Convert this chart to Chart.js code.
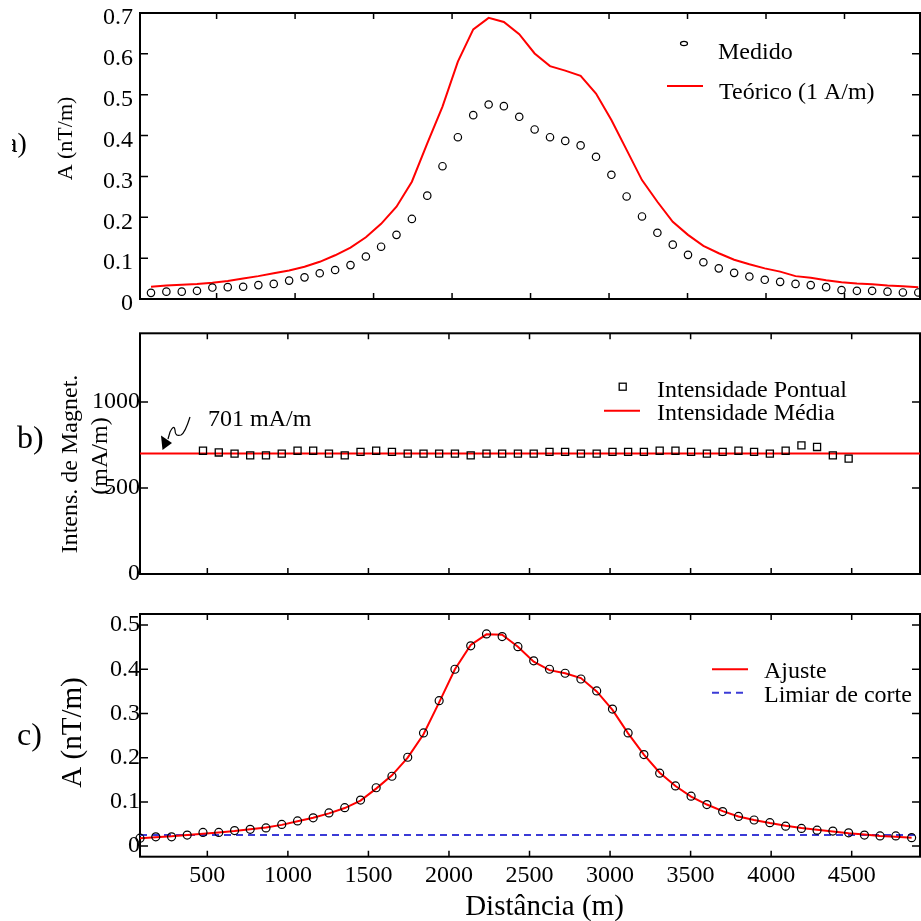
<!DOCTYPE html>
<html><head><meta charset="utf-8">
<script src="https://cdn.jsdelivr.net/npm/chart.js@4.4.1/dist/chart.umd.min.js"></script>
<style>
body{margin:0;background:#fff;width:921px;height:921px;position:relative;overflow:hidden}
canvas{position:absolute;left:0}
</style>
</head><body>
<canvas id="ca" width="921" height="315" style="top:0px"></canvas>
<canvas id="cb" width="921" height="285" style="top:315px"></canvas>
<canvas id="cc" width="921" height="321" style="top:600px"></canvas>
<script>
// ---------- DATA ----------
const distances = [82,180,278,375,473,571,669,766,864,962,1060,1157,1255,1353,1451,1548,1646,1744,1842,1939,2037,2135,2233,2330,2428,2526,2624,2721,2819,2917,3015,3112,3210,3308,3406,3503,3601,3699,3797,3894,3992,4090,4188,4285,4383,4481,4579,4676,4774,4872,4970];
const xTickValues = [500,1000,1500,2000,2500,3000,3500,4000,4500];

// panel a)
const aMedido  = [0.015,0.018,0.018,0.020,0.028,0.029,0.030,0.034,0.037,0.045,0.053,0.063,0.071,0.083,0.104,0.128,0.157,0.196,0.253,0.325,0.396,0.450,0.476,0.472,0.446,0.415,0.396,0.387,0.376,0.348,0.304,0.251,0.202,0.162,0.133,0.108,0.090,0.075,0.064,0.055,0.047,0.042,0.037,0.034,0.029,0.022,0.020,0.020,0.018,0.016,0.016];
const aTeorico = [0.030,0.033,0.035,0.037,0.040,0.044,0.050,0.056,0.063,0.070,0.079,0.091,0.107,0.126,0.151,0.184,0.226,0.287,0.381,0.471,0.581,0.660,0.688,0.678,0.648,0.601,0.570,0.559,0.546,0.503,0.438,0.365,0.291,0.238,0.189,0.157,0.130,0.112,0.096,0.085,0.075,0.067,0.056,0.052,0.046,0.041,0.038,0.036,0.033,0.031,0.029];
const aYTicks = [0,0.1,0.2,0.3,0.4,0.5,0.6,0.7];

// panel b)
const bDistances = distances.slice(4, 46);
const bPontual = [717,707,700,690,690,700,717,717,700,690,710,717,710,700,700,700,700,690,700,700,700,700,710,710,700,700,710,710,710,717,717,710,700,710,717,710,700,717,748,739,690,671];
const bMedia = 701;
const bYTicks = [0,500,1000];

// panel c)
const cMedido = [0.018,0.021,0.021,0.025,0.031,0.031,0.035,0.038,0.041,0.049,0.057,0.064,0.075,0.087,0.104,0.132,0.158,0.201,0.256,0.329,0.400,0.453,0.480,0.474,0.451,0.419,0.400,0.391,0.378,0.351,0.310,0.256,0.207,0.165,0.136,0.113,0.094,0.078,0.067,0.059,0.053,0.045,0.040,0.036,0.034,0.030,0.025,0.023,0.023,0.019];
const cAjuste = [0.018,0.020,0.022,0.025,0.028,0.031,0.034,0.038,0.042,0.048,0.056,0.064,0.074,0.086,0.103,0.130,0.160,0.200,0.253,0.325,0.400,0.455,0.479,0.478,0.451,0.417,0.398,0.391,0.380,0.350,0.308,0.255,0.207,0.166,0.136,0.112,0.094,0.079,0.067,0.059,0.052,0.046,0.041,0.037,0.033,0.029,0.026,0.023,0.021,0.019];
const cLimiar = 0.025;
const cYTicks = [0,0.1,0.2,0.3,0.4,0.5];

// ---------- DRAWING ----------
const FF = "'Liberation Serif','Times New Roman',serif";
const RED = '#ff0000', BLUE = '#3b3bd6';
function pts(xs, ys){ return ys.map((y,i)=>({x:xs[i], y:y})); }
function fmt1(v){ return v === 0 ? '0' : v.toFixed(1); }

function txt(ctx, s, x, y, size, align, rot){
  ctx.save();
  ctx.font = size + 'px ' + FF;
  ctx.fillStyle = '#000';
  ctx.textAlign = align || 'left';
  ctx.textBaseline = 'alphabetic';
  ctx.translate(x, y);
  if (rot) ctx.rotate(-Math.PI/2);
  ctx.fillText(s, 0, 0);
  ctx.restore();
}
function seg(ctx, x1, y1, x2, y2, color, w, dash){
  ctx.save(); ctx.strokeStyle = color; ctx.lineWidth = w; ctx.setLineDash(dash||[]);
  ctx.beginPath(); ctx.moveTo(x1,y1); ctx.lineTo(x2,y2); ctx.stroke(); ctx.restore();
}

function build(id, cfg){
  const deco = {
    id: 'deco',
    beforeDatasetsDraw(chart){
      const ctx = chart.ctx, a = chart.chartArea, x = chart.scales.x, y = chart.scales.y;
      ctx.save();
      ctx.strokeStyle = '#000'; ctx.lineWidth = 2;
      ctx.strokeRect(a.left, a.top, a.right - a.left, a.bottom - a.top);
      ctx.lineWidth = 1.5;
      ctx.beginPath();
      cfg.xTicks.forEach(v => { const p = x.getPixelForValue(v);
        ctx.moveTo(p, a.top); ctx.lineTo(p, a.top + 6);
        ctx.moveTo(p, a.bottom); ctx.lineTo(p, a.bottom - 6); });
      cfg.yTicks.forEach(v => { const p = y.getPixelForValue(v);
        ctx.moveTo(a.left, p); ctx.lineTo(a.left + 8, p);
        ctx.moveTo(a.right, p); ctx.lineTo(a.right - 8, p); });
      ctx.stroke();
      ctx.restore();
    },
    afterDraw(chart){
      const ctx = chart.ctx;
      ctx.save(); ctx.translate(0, -cfg.offY);
      cfg.decorate(ctx);
      ctx.restore();
    }
  };
  return new Chart(document.getElementById(id), {
    type: 'scatter',
    data: { datasets: cfg.datasets },
    options: {
      responsive: false, animation: false, devicePixelRatio: 1,
      layout: { autoPadding: false, padding: { top: cfg.padTop, right: 1, bottom: 0, left: 0 } },
      plugins: { legend: { display: false }, tooltip: { enabled: false } },
      elements: { line: { tension: 0 } },
      scales: {
        x: {
          type: 'linear', min: cfg.xMin, max: cfg.xMax,
          grid: { display: false, drawTicks: false }, border: { display: false },
          ticks: { display: cfg.xLabels, font: { family: FF, size: 24 }, color: '#000', padding: 5,
                   maxRotation: 0, autoSkip: false, callback: v => String(v) },
          afterBuildTicks: s => { s.ticks = cfg.xTicks.map(v => ({ value: v })); },
          afterFit: s => { s.height = cfg.xH; s.paddingLeft = 0; s.paddingRight = 0; }
        },
        y: {
          type: 'linear', min: cfg.yMin, max: cfg.yMax,
          grid: { display: false, drawTicks: false }, border: { display: false },
          ticks: { font: { family: FF, size: 24 }, color: '#000', padding: cfg.yPad,
                   labelOffset: cfg.labelOffset || 0, autoSkip: false, callback: cfg.yFmt },
          afterBuildTicks: s => { s.ticks = cfg.yTicks.map(v => ({ value: v })); },
          afterFit: s => { s.width = 140; s.paddingTop = 0; s.paddingBottom = 0; }
        }
      }
    },
    plugins: [deco]
  });
}

// ---- panel a ----
build('ca', {
  offY: 0, padTop: 13, xH: 16, xMin: 12, xMax: 4981, yMin: 0, yMax: 0.7,
  xTicks: xTickValues, yTicks: aYTicks, xLabels: false, yPad: 7, labelOffset: 5, yFmt: fmt1,
  datasets: [
    { data: pts(distances, aMedido), showLine: false, pointStyle: 'circle', pointRadius: 3.7,
      pointBorderWidth: 1.2, pointBorderColor: '#000', pointBackgroundColor: 'rgba(0,0,0,0)' },
    { data: pts(distances, aTeorico), showLine: true, borderColor: RED, borderWidth: 2, pointRadius: 0 }
  ],
  decorate(ctx){
    txt(ctx, 'A (nT/m)', 71.5, 138.5, 22, 'center', true);
    ctx.save(); ctx.beginPath(); ctx.rect(12, 0, 100, 315); ctx.clip();
    txt(ctx, 'a)', 5, 152, 28); ctx.restore();
    // legend
    ctx.save(); ctx.strokeStyle = '#000'; ctx.lineWidth = 1.2;
    ctx.beginPath(); ctx.ellipse(684, 43.5, 3.5, 2.2, 0, 0, 2*Math.PI); ctx.stroke(); ctx.restore();
    txt(ctx, 'Medido', 718, 59, 24);
    seg(ctx, 667, 86, 703, 86, RED, 2);
    txt(ctx, 'Teórico (1 A/m)', 719, 99, 24);
  }
});

// ---- panel b ----
build('cb', {
  offY: 315, padTop: 18.3, xH: 26, xMin: 82, xMax: 4924, yMin: 0, yMax: 1400,
  xTicks: xTickValues, yTicks: bYTicks, xLabels: false, yPad: 0, yFmt: v => String(v),
  datasets: [
    { data: pts(bDistances, bPontual), showLine: false, pointStyle: 'rect', pointRadius: 5,
      pointBorderWidth: 1.3, pointBorderColor: '#000', pointBackgroundColor: 'rgba(0,0,0,0)' },
    { data: [{ x: 82, y: bMedia }, { x: 4924, y: bMedia }], showLine: true, borderColor: RED, borderWidth: 2, pointRadius: 0 }
  ],
  decorate(ctx){
    txt(ctx, 'Intens. de Magnet.', 77, 464, 24, 'center', true);
    txt(ctx, '(mA/m)', 106.5, 456, 24, 'center', true);
    txt(ctx, 'b)', 17, 448, 32);
    txt(ctx, '701 mA/m', 208, 426, 24);
    // arrow
    ctx.save(); ctx.strokeStyle = '#000'; ctx.lineWidth = 1.2;
    ctx.beginPath(); ctx.moveTo(190, 417);
    ctx.quadraticCurveTo(185, 433, 181, 435);
    ctx.quadraticCurveTo(175, 437, 175, 430);
    ctx.quadraticCurveTo(174, 424, 170, 432);
    ctx.lineTo(168, 439);
    ctx.stroke();
    ctx.fillStyle = '#000'; ctx.beginPath();
    ctx.moveTo(162.5, 450); ctx.lineTo(161, 435.5); ctx.lineTo(172, 443); ctx.closePath(); ctx.fill();
    ctx.restore();
    // legend
    ctx.save(); ctx.strokeStyle = '#000'; ctx.lineWidth = 1.3;
    ctx.strokeRect(619.2, 383.2, 7, 7); ctx.restore();
    txt(ctx, 'Intensidade Pontual', 657, 397, 24);
    seg(ctx, 604, 410.7, 640, 410.7, RED, 2);
    txt(ctx, 'Intensidade Média', 657, 420, 24);
  }
});

// ---- panel c ----
build('cc', {
  offY: 600, padTop: 14, xH: 64.3, xMin: 82, xMax: 4924, yMin: -0.024, yMax: 0.525,
  xTicks: xTickValues, yTicks: cYTicks, xLabels: true, yPad: 0, yFmt: fmt1,
  datasets: [
    { data: pts(distances, cMedido), showLine: false, pointStyle: 'circle', pointRadius: 4,
      pointBorderWidth: 1.2, pointBorderColor: '#000', pointBackgroundColor: 'rgba(0,0,0,0)', clip: false },
    { data: pts(distances, cAjuste), showLine: true, borderColor: RED, borderWidth: 2, pointRadius: 0, clip: false },
    { data: [{ x: 82, y: cLimiar }, { x: 4924, y: cLimiar }], showLine: true, borderColor: BLUE, borderWidth: 2,
      borderDash: [7, 5], pointRadius: 0 }
  ],
  decorate(ctx){
    txt(ctx, 'A (nT/m)', 80.5, 732.5, 29, 'center', true);
    txt(ctx, 'c)', 17, 745, 32);
    txt(ctx, 'Distância (m)', 544.5, 915, 29, 'center');
    seg(ctx, 712, 669.3, 748, 669.3, RED, 2);
    txt(ctx, 'Ajuste', 764, 678, 24);
    seg(ctx, 712, 692.7, 748, 692.7, BLUE, 2, [7, 5]);
    txt(ctx, 'Limiar de corte', 764, 702, 24);
  }
});
</script>
</body></html>
